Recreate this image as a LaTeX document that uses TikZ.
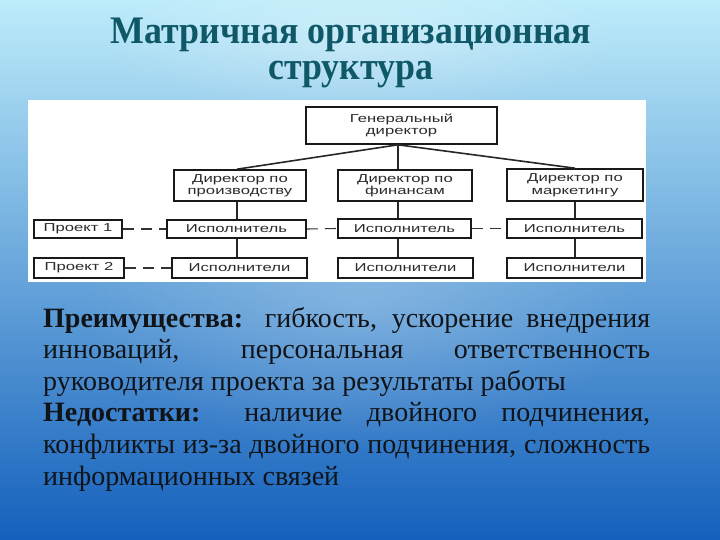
\documentclass[tikz,border=0pt]{standalone}
\usepackage{fontspec}
\setmainfont{Liberation Serif}
\newfontfamily\boxfont[FakeStretch=1.45]{Liberation Sans}
\newfontfamily\titlefont[FakeStretch=0.92]{Liberation Serif}
\usetikzlibrary{calc,fadings}
\definecolor{bgtop}{HTML}{BDECFA}
\definecolor{bgmid}{HTML}{58B6E8}
\definecolor{bgbot}{HTML}{1460BC}
\definecolor{titlecol}{HTML}{0F5868}
\definecolor{boxtext}{HTML}{2B2B2B}
\definecolor{bodytext}{HTML}{101418}
\tikzfading[name=softglow, inner color=transparent!0, outer color=transparent!100]
\tikzset{
  orgbox/.style={draw=black!90, line width=1.6pt, fill=white, inner sep=0pt,
    align=center, font=\boxfont\fontsize{11.5}{12.5}\selectfont, text=boxtext},
  link/.style={draw=black!85, line width=1.6pt},
  projlink/.style={draw=black!80, line width=1.1pt, dash pattern=on 11pt off 7pt},
  bodyline/.style={anchor=base west, inner sep=0pt, text=bodytext,
    font=\fontsize{28}{31.6}\selectfont},
  titleline/.style={anchor=base, inner sep=0pt, text=titlecol,
    font=\titlefont\bfseries\fontsize{39}{40}\selectfont}
}
\begin{document}
\begin{tikzpicture}[x=1pt,y=-1pt]
\useasboundingbox (0,0) rectangle (720,540);
% background
\shade[top color=bgtop, middle color=bgmid, bottom color=bgbot] (0,0) rectangle (720,540);
\begin{scope}
\clip (0,0) rectangle (720,540);
\fill[white, path fading=softglow, fill opacity=0.22] (360,300) ellipse (280 and 150);
\fill[white, path fading=softglow, fill opacity=0.3] (360,40) ellipse (260 and 80);
\end{scope}
% title
\node[titleline] (t1) at (351,44) {Матричная организационная};
\node[titleline] (t2) at (351,80) {структура};
% white panel
\fill[white] (28,100) rectangle (646,282);
% column coordinates
\coordinate (c1) at (237,0);
\coordinate (c2) at (398,0);
\coordinate (c3) at (575,0);
% boxes
\node[orgbox, minimum width=191pt, minimum height=37pt] (gen) at (401.5,125.5) {Генеральный\\директор};
\node[orgbox, minimum width=132pt, minimum height=31pt] (d1) at (240,185.5) {Директор по\\производству};
\node[orgbox, minimum width=134pt, minimum height=31pt] (d2) at (405,185.5) {Директор по\\финансам};
\node[orgbox, minimum width=136pt, minimum height=32pt] (d3) at (575,185) {Директор по\\маркетингу};
\node[orgbox, minimum width=88pt, minimum height=18pt] (p1) at (78,229) {Проект 1};
\node[orgbox, minimum width=139pt, minimum height=18pt] (e1) at (236.5,229) {Исполнитель};
\node[orgbox, minimum width=133pt, minimum height=19pt] (e2) at (404.5,228.5) {Исполнитель};
\node[orgbox, minimum width=135pt, minimum height=19pt] (e3) at (574.5,228.5) {Исполнитель};
\node[orgbox, minimum width=90pt, minimum height=20pt] (p2) at (79,268) {Проект 2};
\node[orgbox, minimum width=135pt, minimum height=20pt] (s1) at (239.5,268) {Исполнители};
\node[orgbox, minimum width=135pt, minimum height=20pt] (s2) at (405.5,268) {Исполнители};
\node[orgbox, minimum width=135pt, minimum height=20pt] (s3) at (574.5,268) {Исполнители};
% hierarchy links
\draw[link] (gen.south -| c2) -- (d1.north -| c1);
\draw[link] (gen.south -| c2) -- (d2.north -| c2);
\draw[link] (gen.south -| c2) -- (d3.north -| c3);
\draw[link] (d1.south -| c1) -- (e1.north -| c1);
\draw[link] (e1.south -| c1) -- (s1.north -| c1);
\draw[link] (d2.south -| c2) -- (e2.north -| c2);
\draw[link] (e2.south -| c2) -- (s2.north -| c2);
\draw[link] (d3.south -| c3) -- (e3.north -| c3);
\draw[link] (e3.south -| c3) -- (s3.north -| c3);
% project links
\draw[projlink] (p1.east) -- (e1.west);
\draw[projlink] (e1.east) -- (e2.west);
\draw[projlink] (e2.east) -- (e3.west);
\draw[projlink] (p2.east) -- (s1.west);
% body text
\node[bodyline] (b1) at (43,327) {\makebox[607pt][s]{\textbf{Преимущества:} гибкость, ускорение внедрения}};
\node[bodyline] (b2) at (43,358.6) {\makebox[607pt][s]{инноваций, персональная ответственность}};
\node[bodyline] (b3) at (43,390.2) {руководителя проекта за результаты работы};
\node[bodyline] (b4) at (43,421.8) {\makebox[607pt][s]{\textbf{Недостатки:} наличие двойного подчинения,}};
\node[bodyline] (b5) at (43,453.4) {\makebox[607pt][s]{конфликты из-за двойного подчинения, сложность}};
\node[bodyline] (b6) at (43,485) {информационных связей};
\end{tikzpicture}
\end{document}
